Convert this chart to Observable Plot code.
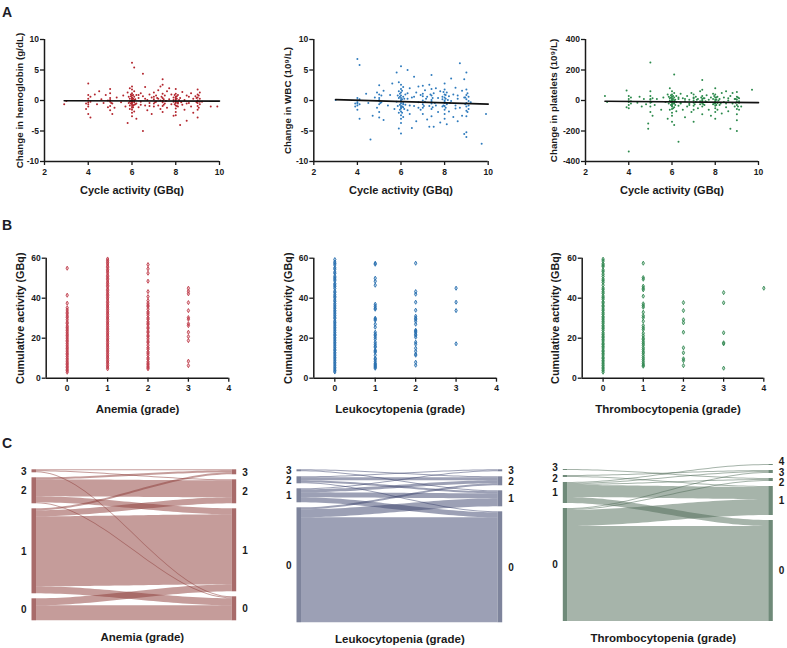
<!DOCTYPE html>
<html><head><meta charset="utf-8">
<script src="https://cdn.jsdelivr.net/npm/d3@7"></script>
<script src="https://cdn.jsdelivr.net/npm/@observablehq/plot@0.6"></script>
<style>
body{margin:0;background:#fff;font-family:"Liberation Sans",Arial,Helvetica,sans-serif}
#root{position:relative;width:787px;height:648px;overflow:hidden;background:#fff}
.letter{position:absolute;font-weight:bold;font-size:14px;line-height:14px;color:#1c1c28}
</style></head>
<body><div id="root">
<div class="letter" style="left:2px;top:5px">A</div>
<div class="letter" style="left:2px;top:218px">B</div>
<div class="letter" style="left:2px;top:436px">C</div>
</div>
<script>
// ---------- Panel A data: [cycle activity GBq, change] ----------
const hbPts = [[2.9,-0.6],[3.0,-0.1],[3.9,-0.5],[4.0,2.8],[4.0,0.3],[4.0,-0.3],[4.0,-1.0],[4.0,-2.2],[4.1,-2.8],[4.0,0.9],[4.1,-0.2],[3.9,-1.4],[4.1,0.6],[4.3,1.0],[4.4,-0.6],[4.5,1.5],[4.6,0.2],[4.7,-0.4],[4.8,0.9],[4.9,-1.1],[5.0,1.9],[5.0,0.4],[5.0,-0.2],[5.0,-0.9],[5.0,-1.6],[5.1,-2.2],[4.9,0.0],[5.0,1.2],[5.1,-0.5],[5.2,-1.2],[5.3,0.5],[5.5,-0.3],[5.6,0.8],[5.7,-1.0],[5.8,-3.7],[5.8,1.3],[5.9,0.3],[5.9,-0.8],[5.9,2.0],[6.0,6.2],[6.1,5.4],[6.0,1.8],[6.0,1.2],[6.0,0.8],[6.0,0.5],[6.0,0.2],[6.0,0.0],[6.0,-0.2],[6.0,-0.4],[6.0,-0.6],[6.0,-0.9],[6.0,-1.2],[6.0,-1.5],[6.0,-2.0],[6.0,-2.6],[6.1,1.5],[6.1,0.6],[6.1,0.1],[6.1,-0.3],[6.1,-0.7],[6.1,-1.8],[6.2,-3.0],[5.9,-1.4],[6.0,2.3],[6.2,0.9],[6.2,-0.5],[6.3,0.4],[6.3,-1.1],[6.4,1.2],[6.4,-0.2],[6.5,4.4],[6.5,-5.0],[6.5,0.7],[6.6,-0.8],[6.6,2.2],[6.7,0.1],[6.7,-1.6],[6.8,1.0],[6.8,-0.4],[6.9,0.5],[6.9,-2.2],[7.0,1.3],[7.0,0.2],[7.0,-0.5],[7.0,-1.0],[7.1,0.8],[7.1,-0.2],[7.2,1.7],[7.2,-0.8],[7.2,0.3],[7.3,2.3],[7.3,-1.4],[7.3,0.0],[7.4,3.5],[7.4,2.6],[7.4,1.1],[7.4,0.4],[7.4,-0.3],[7.4,-0.9],[7.4,-1.9],[7.5,0.8],[7.5,-0.5],[7.6,1.5],[7.6,-1.2],[7.7,0.2],[7.7,2.0],[7.8,-0.6],[7.8,1.0],[7.9,-2.5],[7.9,0.5],[8.0,1.9],[8.0,1.1],[8.0,0.6],[8.0,0.2],[8.0,-0.1],[8.0,-0.4],[8.0,-0.8],[8.0,-1.3],[8.0,-1.9],[8.0,-2.4],[8.1,0.9],[8.1,-0.3],[8.1,-1.0],[8.0,0.4],[7.9,-0.2],[8.2,-4.0],[8.2,0.4],[8.3,-0.7],[8.3,1.4],[8.4,-1.5],[8.4,0.1],[8.5,-3.3],[8.5,0.8],[8.6,-0.4],[8.7,1.2],[8.7,-1.0],[8.8,0.3],[8.8,-2.0],[8.9,0.7],[9.0,1.8],[9.0,1.0],[9.0,0.5],[9.0,0.0],[9.0,-0.4],[9.0,-0.9],[9.0,-1.5],[9.0,-2.8],[9.1,0.3],[9.1,-0.6],[9.1,1.3],[9.2,-0.2],[9.6,-1.0],[9.9,-1.0]];
const hbPtsDense = [[5.95,0.7],[5.95,-0.1],[5.95,-0.5],[5.95,1.0],[6.05,0.3],[6.05,-0.8],[6.05,-1.1],[6.05,0.9],[6.0,-0.3],[6.0,0.4],[5.9,-0.2],[6.1,-0.1],[6.15,0.2],[6.15,-0.6],[5.85,0.6],[5.85,-0.4],[6.3,0.9],[6.4,-0.7],[6.6,0.3],[6.8,-0.9],[7.0,0.6],[7.05,-0.3],[7.15,0.4],[7.35,0.6],[7.4,-0.1],[7.45,0.2],[7.45,-0.7],[7.55,-0.1],[7.9,0.1],[7.95,-0.6],[7.95,0.9],[8.0,-0.3],[8.05,0.3],[8.05,-0.9],[8.05,0.7],[8.1,-0.5],[8.15,0.1],[8.25,-0.3],[8.5,-0.5],[8.6,0.6],[8.95,-0.3],[8.95,0.4],[9.05,-1.2],[9.05,0.8],[9.1,-0.2],[4.0,-0.6],[5.0,0.1],[5.05,-0.4]];
const hbFit = [[2.9,-0.05],[10,-0.1]];

const wbcPts = [[3.0,0.1],[3.9,-0.5],[3.9,-1.0],[4.0,6.8],[4.1,5.8],[4.0,0.4],[4.0,0.0],[4.0,-0.3],[4.0,-0.8],[4.0,-1.5],[4.1,-3.0],[4.1,0.2],[4.1,-0.6],[4.4,1.1],[4.5,-0.4],[4.6,-6.4],[4.7,-2.5],[4.8,0.5],[4.9,1.3],[4.9,-1.2],[5.0,2.5],[5.0,1.0],[5.0,0.4],[5.0,-0.1],[5.0,-0.6],[5.0,-1.9],[5.0,-2.8],[5.1,0.8],[5.1,-0.3],[5.2,1.6],[5.2,-3.2],[5.4,-0.8],[5.5,0.9],[5.6,2.8],[5.7,-1.4],[5.8,4.6],[5.8,-0.2],[5.9,3.0],[5.9,-4.6],[5.9,1.5],[5.9,-2.0],[6.0,5.6],[6.0,2.6],[6.0,1.9],[6.0,1.3],[6.0,0.8],[6.0,0.4],[6.0,0.1],[6.0,-0.2],[6.0,-0.5],[6.0,-0.9],[6.0,-1.3],[6.0,-1.8],[6.0,-2.4],[6.0,-3.0],[6.0,-5.4],[6.0,-3.7],[6.1,2.2],[6.1,0.6],[6.1,-0.4],[6.1,-1.1],[6.1,-2.7],[6.2,1.0],[6.2,-0.7],[6.3,5.0],[6.3,-1.6],[6.3,0.3],[6.4,2.0],[6.4,-2.2],[6.5,-4.5],[6.5,0.5],[6.6,-0.9],[6.6,3.9],[6.7,1.3],[6.7,-3.4],[6.8,-0.3],[6.8,2.3],[6.9,-1.5],[6.9,0.9],[7.0,2.4],[7.0,1.1],[7.0,0.0],[7.0,-0.6],[7.0,-1.2],[7.0,-2.2],[7.1,1.7],[7.1,-0.2],[7.2,-3.1],[7.2,0.6],[7.3,-4.3],[7.3,2.6],[7.3,-0.9],[7.4,4.2],[7.4,1.9],[7.4,0.8],[7.4,0.1],[7.4,-0.5],[7.4,-1.4],[7.4,-2.6],[7.5,1.2],[7.5,-4.3],[7.6,-0.8],[7.6,2.0],[7.7,0.4],[7.7,-1.9],[7.8,1.5],[7.8,-3.6],[7.9,0.2],[7.9,-1.0],[8.0,2.8],[8.0,1.8],[8.0,1.0],[8.0,0.5],[8.0,0.0],[8.0,-0.4],[8.0,-0.9],[8.0,-1.5],[8.0,-2.2],[8.0,-3.0],[8.1,1.3],[8.1,-0.6],[8.1,-3.9],[8.2,0.7],[8.2,-1.8],[8.3,3.6],[8.3,-0.1],[8.4,-2.7],[8.4,1.0],[8.5,-0.8],[8.5,2.1],[8.6,0.3],[8.6,-3.4],[8.7,6.1],[8.7,-1.2],[8.8,1.6],[8.8,-2.5],[8.9,-5.5],[8.9,0.5],[8.9,3.5],[9.0,4.6],[9.0,1.8],[9.0,0.9],[9.0,0.2],[9.0,-0.4],[9.0,-1.0],[9.0,-1.7],[9.0,-2.6],[9.0,-5.2],[9.0,-6.0],[9.1,0.6],[9.1,-0.8],[9.1,-1.4],[9.2,-0.3],[9.7,-7.1],[9.9,-2.2]];
const wbcPtsDense = [[5.95,0.6],[5.95,-0.7],[5.95,-1.5],[5.95,1.1],[6.05,0.2],[6.05,-1.0],[6.05,-2.0],[6.05,1.6],[6.0,-0.1],[6.0,-1.1],[5.9,0.4],[6.1,-0.6],[6.15,0.3],[6.15,-1.4],[5.85,0.8],[5.85,-0.9],[6.3,1.2],[6.4,-0.8],[6.6,0.6],[6.8,-1.2],[7.0,0.7],[7.05,-0.9],[7.15,0.3],[7.35,1.0],[7.4,-0.2],[7.45,0.4],[7.45,-1.1],[7.55,-0.4],[7.9,0.6],[7.95,-0.8],[7.95,1.4],[8.0,-0.2],[8.05,0.3],[8.05,-1.2],[8.05,0.9],[8.1,-0.5],[8.15,0.1],[8.25,-0.4],[8.5,-1.3],[8.6,0.8],[8.95,-0.6],[8.95,0.5],[9.05,-1.9],[9.05,1.2],[9.1,-0.1],[4.0,-0.5],[5.0,0.1],[5.05,-0.4]];
const wbcFit = [[3.0,0.15],[10,-0.6]];

const pltPts = [[2.9,30],[3.0,-10],[3.9,65],[4.0,-335],[4.0,30],[4.0,10],[4.0,-10],[4.0,-30],[4.0,-50],[4.1,20],[4.1,-20],[3.9,-45],[4.1,-5],[4.4,-15],[4.5,25],[4.6,-40],[4.7,10],[4.8,-25],[4.9,-185],[4.9,-150],[5.0,250],[5.0,60],[5.0,30],[5.0,5],[5.0,-15],[5.0,-40],[5.0,-75],[5.1,-100],[5.1,15],[5.2,-30],[5.3,10],[5.5,-60],[5.6,20],[5.7,-10],[5.8,40],[5.8,-120],[5.9,80],[5.9,0],[5.9,-60],[6.0,60],[6.0,40],[6.0,25],[6.0,15],[6.0,5],[6.0,-5],[6.0,-15],[6.0,-25],[6.0,-40],[6.0,-55],[6.0,-80],[6.0,-100],[6.0,-140],[6.1,170],[6.1,50],[6.1,20],[6.1,0],[6.1,-20],[6.1,-45],[6.1,-160],[6.2,30],[6.2,-10],[6.2,-70],[6.3,-270],[6.3,10],[6.3,-35],[6.4,45],[6.4,-20],[6.5,-60],[6.5,15],[6.6,-5],[6.6,-110],[6.7,30],[6.7,-40],[6.8,5],[6.8,-20],[6.9,50],[6.9,-75],[7.0,40],[7.0,20],[7.0,0],[7.0,-15],[7.0,-35],[7.0,-60],[7.0,-140],[7.1,25],[7.1,-10],[7.2,-50],[7.2,10],[7.3,60],[7.3,-25],[7.3,-5],[7.4,135],[7.4,70],[7.4,30],[7.4,10],[7.4,-5],[7.4,-20],[7.4,-40],[7.4,-90],[7.5,15],[7.5,-30],[7.6,-10],[7.6,35],[7.7,-60],[7.7,5],[7.8,20],[7.8,-100],[7.9,-25],[7.9,45],[8.0,80],[8.0,40],[8.0,20],[8.0,5],[8.0,-5],[8.0,-20],[8.0,-35],[8.0,-50],[8.0,-75],[8.0,-120],[8.1,25],[8.1,-15],[8.1,-60],[8.2,10],[8.2,-30],[8.3,50],[8.3,-85],[8.4,-10],[8.4,20],[8.5,-45],[8.5,60],[8.6,0],[8.6,-70],[8.7,-185],[8.7,30],[8.8,-20],[8.8,50],[8.9,-40],[8.9,10],[9.0,55],[9.0,25],[9.0,5],[9.0,-10],[9.0,-30],[9.0,-55],[9.0,-90],[9.0,-130],[9.0,-200],[9.1,-15],[9.1,15],[9.1,-60],[9.2,-40],[9.7,70]];
const pltPtsDense = [[5.95,20],[5.95,-10],[5.95,-30],[5.95,35],[6.05,10],[6.05,-20],[6.05,-50],[6.05,30],[6.0,0],[6.0,-35],[5.9,15],[6.1,-10],[6.15,5],[6.15,-30],[5.85,25],[5.85,-20],[6.3,20],[6.4,-15],[6.6,10],[6.8,-30],[7.0,15],[7.05,-25],[7.15,5],[7.35,20],[7.4,0],[7.45,15],[7.45,-25],[7.55,-5],[7.9,10],[7.95,-20],[7.95,30],[8.0,-10],[8.05,5],[8.05,-30],[8.05,20],[8.1,-15],[8.15,0],[8.25,-20],[8.5,-20],[8.6,15],[8.95,-15],[8.95,10],[9.05,-40],[9.05,20],[9.1,-5],[4.0,-5],[5.0,10],[5.05,-10]];
const pltFit = [[2.9,-5],[10,-14]];

const cycleTicks = [2,4,6,8,10];
const hbTicks = [-10,-5,0,5,10];
const wbcTicks = [-10,-5,0,5,10];
const pltTicks = [-400,-200,0,200,400];

// ---------- Panel B data: cumulative activity (GBq) by grade ----------
const anemia0 = [55.0,41.5,37.5,35.2,34.1,33.0,32.2,31.1,30.3,29.2,28.0,27.3,26.1,25.4,24.6,23.8,23.0,22.1,21.4,20.6,19.7,18.9,18.2,17.3,16.5,15.6,14.9,14.1,13.2,12.4,11.7,10.8,9.9,9.1,8.2,7.5,6.8,6.0,5.3,4.5,3.8,3.0];
const anemia1 = [59.6,58.7,57.9,57.1,56.0,55.4,54.3,53.6,52.7,51.5,50.8,49.9,49.2,48.1,47.3,46.4,45.7,44.5,43.8,42.9,42.0,41.3,40.4,39.6,38.5,37.8,36.9,36.1,35.2,34.4,33.5,32.6,31.8,30.9,30.1,29.3,28.4,27.6,26.7,25.9,25.0,24.2,23.3,22.5,21.6,20.8,19.9,19.1,18.3,17.4,16.6,15.7,14.9,14.0,13.2,12.3,11.5,10.6,9.8,8.9,8.1,7.3,6.4,5.6,4.7];
const anemia2 = [56.8,54.7,52.5,48.5,43.3,40.8,38.8,37.5,36.5,35.8,34.5,33.2,32.5,31.5,30.2,29.5,28.3,27.5,26.8,25.5,24.8,23.5,22.8,21.5,20.8,19.7,18.5,17.8,16.5,15.3,14.5,13.2,12.5,11.5,10.2,9.5,8.3,7.5,6.8,6.0,5.3,4.7];
const anemia3 = [45.0,43.5,42.2,37.8,33.8,30.3,29.5,27.2,26.3,23.0,20.8,18.8,8.5,6.3];

const leuko0 = [59.3,58.1,57.4,56.6,55.2,54.5,53.1,52.4,51.0,50.2,49.5,48.7,47.3,46.6,45.8,44.9,43.5,42.8,41.7,40.9,40.2,39.1,38.4,37.3,36.5,35.6,34.8,33.9,33.1,32.2,31.4,30.5,29.8,28.6,27.9,27.1,26.2,25.4,24.6,23.7,22.9,22.0,21.3,20.4,19.6,18.7,17.9,17.1,16.2,15.4,14.5,13.8,12.9,12.1,11.2,10.4,9.6,8.7,7.9,7.1,6.2,5.4,4.6,3.8,3.1];
const leuko1 = [57.5,57.0,50.0,48.5,46.5,37.0,36.0,35.0,34.5,30.0,29.5,29.0,27.0,25.5,23.0,22.0,21.5,20.5,19.5,18.0,17.0,16.0,15.5,14.0,13.5,13.0,11.5,10.0,9.5,8.5,7.5,7.0,6.5,6.0,5.5,5.0];
const leuko2 = [57.5,43.3,42.0,38.0,34.0,31.0,30.0,29.5,28.5,27.0,24.0,23.5,23.0,22.0,21.5,20.5,18.0,17.0,15.0,13.5,12.0,11.5,8.0,6.5];
const leuko3 = [45.0,38.0,33.8,17.2];

const thrombo0 = [59.5,58.6,57.2,56.5,55.8,54.1,53.3,52.0,50.9,49.6,48.8,47.9,46.5,45.1,44.3,43.2,42.4,41.1,40.3,39.5,38.2,37.6,36.4,35.7,34.6,33.8,32.7,31.9,30.8,30.1,29.2,28.3,27.5,26.4,25.6,24.8,23.9,22.7,21.9,21.0,20.3,19.4,18.6,17.5,16.8,15.9,15.1,14.0,13.3,12.4,11.6,10.5,9.8,8.9,8.1,7.2,6.4,5.5,4.7,3.9,3.0];
const thrombo1 = [57.5,50.3,49.5,46.0,45.0,44.2,41.0,37.2,36.3,35.5,33.0,31.2,30.3,28.5,26.3,25.2,24.3,22.5,21.2,20.0,19.3,18.2,17.3,16.5,15.2,14.3,13.2,12.5,11.3,10.2,9.3,8.2,7.2,6.5,6.0];
const thrombo2 = [37.8,33.8,29.2,27.7,23.0,15.2,12.7,9.7,8.8,6.3];
const thrombo3 = [42.8,37.7,22.7,17.7,17.2,5.0];
const thrombo4 = [45.0];

const gradeTicks = [0,1,2,3,4];
const cumTicks = [0,20,40,60];

// ---------- Panel C data: [grade left, grade right, patients] ----------
const anemiaFlows = [[3,3,1],[3,2,1],[3,0,1],[2,3,2],[2,2,17],[2,1,6],[2,0,1],[1,3,2],[1,2,6],[1,1,70],[1,0,7],[0,1,7],[0,0,15]];
const leukoFlows = [[3,2,1],[3,1,1],[2,3,1],[2,2,3],[2,1,2],[2,0,1],[1,3,1],[1,2,3],[1,1,5],[1,0,5],[0,2,2],[0,1,8],[0,0,105]];
const thromboFlows = [[3,2,1],[2,3,1],[2,1,1],[1,4,1],[1,3,1],[1,2,1],[1,1,12],[1,0,6],[0,3,1],[0,2,1],[0,1,16],[0,0,95]];

// ---------- drawing ----------
const FONT = "'Liberation Sans', Arial, Helvetica, sans-serif";
const INK = "#1a1a1a";
const root = document.getElementById("root");
const baseStyle = {fontFamily: FONT, fontSize: "8.5px", fontWeight: "bold", color: INK, background: "transparent", overflow: "visible"};
const fmt = d => String(d);
function place(svg, left, top) {
  svg.style.position = "absolute"; svg.style.left = left + "px"; svg.style.top = top + "px";
  root.appendChild(svg);
}

function scatterPanel({pts, fit, color, yDomain, yTicks, yLabel, left, width, ml, mr, yDx}) {
  const svg = Plot.plot({
    width, height: 205, marginLeft: ml, marginRight: mr, marginTop: 39, marginBottom: 44,
    style: baseStyle,
    x: {domain: [2, 10]}, y: {domain: yDomain},
    marks: [
      Plot.dot(pts, {x: d => d[0], y: d => d[1], r: 1.0, fill: color, stroke: "none"}),
      Plot.line(fit, {x: d => d[0], y: d => d[1], stroke: "#111", strokeWidth: 1.6}),
      Plot.ruleX([2], {stroke: INK, strokeWidth: 1.5}),
      Plot.ruleY([yDomain[0]], {stroke: INK, strokeWidth: 1.5}),
      Plot.axisX({ticks: cycleTicks, tickFormat: fmt, tickSize: 4, tickPadding: 3, label: null, strokeWidth: 1.3}),
      Plot.axisY({ticks: yTicks, tickFormat: fmt, tickSize: 4, tickPadding: 1.5, label: null, strokeWidth: 1.3}),
      Plot.text(["Cycle activity (GBq)"], {text: d => d, frameAnchor: "bottom", dy: 32, fontSize: 11, fontWeight: "bold"}),
      Plot.text([yLabel], {text: d => d, frameAnchor: "left", textAnchor: "middle", dx: yDx, rotate: -90, fontSize: 9.8, fontWeight: "bold"})
    ]
  });
  place(svg, left, 0);
}

scatterPanel({pts: hbPts.concat(hbPtsDense), fit: hbFit, color: "#b3262e", yDomain: [-10, 10], yTicks: hbTicks,
  yLabel: "Change in hemoglobin (g/dL)", left: 0, width: 260, ml: 44, mr: 41, yDx: -25});
scatterPanel({pts: wbcPts.concat(wbcPtsDense), fit: wbcFit, color: "#2f7bbd", yDomain: [-10, 10], yTicks: wbcTicks,
  yLabel: "Change in WBC (10\u2079/L)", left: 262, width: 260, ml: 51.3, mr: 34.3, yDx: -26});
scatterPanel({pts: pltPts.concat(pltPtsDense), fit: pltFit, color: "#2c8a4c", yDomain: [-400, 400], yTicks: pltTicks,
  yLabel: "Change in platelets (10\u2079/L)", left: 522, width: 265, ml: 63, mr: 29, yDx: -32});

function gradePanel({groups, color, title, left, width, ml, mr, yDx, tDx}) {
  const pts = groups.flatMap((vals, g) => vals.map(v => ({g, v})));
  const svg = Plot.plot({
    width, height: 205, marginLeft: ml, marginRight: mr, marginTop: 42.7, marginBottom: 42.3,
    style: baseStyle,
    x: {domain: [-0.52, 4]}, y: {domain: [0, 60]},
    marks: [
      Plot.dot(pts, {x: "g", y: "v", symbol: "diamond", r: 1.25, stroke: color, strokeWidth: 0.9, fill: color, fillOpacity: 0.3}),
      Plot.ruleX([-0.52], {stroke: INK, strokeWidth: 1.5}),
      Plot.ruleY([0], {stroke: INK, strokeWidth: 1.5}),
      Plot.axisX({ticks: gradeTicks, tickFormat: fmt, tickSize: 4, tickPadding: 3, label: null, strokeWidth: 1.3}),
      Plot.axisY({ticks: cumTicks, tickFormat: fmt, tickSize: 4, tickPadding: 1.5, label: null, strokeWidth: 1.3}),
      Plot.text([title], {text: d => d, frameAnchor: "bottom", dy: 35, dx: tDx, fontSize: 11.5, fontWeight: "bold"}),
      Plot.text(["Cumulative activity (GBq)"], {text: d => d, frameAnchor: "left", textAnchor: "middle", dx: yDx, rotate: -90, fontSize: 10.8, fontWeight: "bold"})
    ]
  });
  place(svg, left, 215);
}

gradePanel({groups: [anemia0, anemia1, anemia2, anemia3], color: "#c0404e", title: "Anemia (grade)",
  left: 0, width: 260, ml: 45.7, mr: 31.7, yDx: -26, tDx: 0});
gradePanel({groups: [leuko0, leuko1, leuko2, leuko3], color: "#2a70b0", title: "Leukocytopenia (grade)",
  left: 262, width: 260, ml: 51.3, mr: 26, yDx: -25, tDx: -5});
gradePanel({groups: [thrombo0, thrombo1, thrombo2, thrombo3, thrombo4], color: "#358a55", title: "Thrombocytopenia (grade)",
  left: 522, width: 265, ml: 59.7, mr: 23.7, yDx: -27, tDx: -5});

function alluvialPanel({flows, flowColor, barColor, title, left, width, ml, mr, bottom, tDx}) {
  const top = 440, H = 210, gap = 5, sep = 10.5;
  const relBottom = bottom - top;
  const fl = flows.map(([a, b, n], i) => ({a, b, n, i}));
  const nodes = [];
  function stack(key, other, side) {
    let y = 0;
    for (const g of d3.sort(new Set(fl.map(f => f[key])))) {
      const y0 = y;
      for (const f of d3.sort(fl.filter(f => f[key] === g), f => f[other])) {
        f[side] = [y, y + f.n]; y += f.n;
      }
      nodes.push({side, g, y0, y1: y, ly: (y0 + y) / 2});
      y += gap;
    }
  }
  stack("a", "b", "L"); stack("b", "a", "R");
  // keep node labels apart
  for (const side of ["L", "R"]) {
    const ns = d3.sort(nodes.filter(n => n.side === side), n => n.ly);
    for (let k = 0; k < 80; k++) for (let j = 1; j < ns.length; j++) {
      const d = ns[j].ly - ns[j - 1].ly;
      if (d < sep) { const s = (sep - d) / 2; ns[j].ly += s; ns[j - 1].ly -= s; }
    }
  }
  const rows = [];
  const steps = d3.range(41).map(k => k / 40);
  for (const f of fl) for (const t of steps) {
    const s = t * t * (3 - 2 * t);
    rows.push({i: f.i, t, lo: f.L[0] + (f.R[0] - f.L[0]) * s, hi: f.L[1] + (f.R[1] - f.L[1]) * s});
  }
  const bw = 4.5 / (width - ml - mr);
  const L = nodes.filter(n => n.side === "L"), R = nodes.filter(n => n.side === "R");
  const svg = Plot.plot({
    width, height: H, marginLeft: ml, marginRight: mr, marginTop: relBottom - 160, marginBottom: H - relBottom,
    style: {...baseStyle, fontSize: "10px"},
    x: {domain: [0, 1], axis: null}, y: {domain: [0, 160], axis: null},
    marks: [
      Plot.area(rows, {x1: "t", y1: "lo", y2: "hi", z: "i", fill: flowColor, fillOpacity: 0.5, curve: "linear"}),
      Plot.rect(L, {x1: () => -bw, x2: () => 0, y1: "y0", y2: "y1", fill: barColor}),
      Plot.rect(R, {x1: () => 1, x2: () => 1 + bw, y1: "y0", y2: "y1", fill: barColor}),
      Plot.text(L, {x: () => 0, y: "ly", text: d => String(d.g), dx: -10, textAnchor: "end", fontWeight: "bold"}),
      Plot.text(R, {x: () => 1, y: "ly", text: d => String(d.g), dx: 10, textAnchor: "start", fontWeight: "bold"}),
      Plot.text([title], {text: d => d, frameAnchor: "bottom", dy: 20, dx: tDx, fontSize: 11.5, fontWeight: "bold"})
    ]
  });
  place(svg, left, top);
}

alluvialPanel({flows: anemiaFlows, flowColor: "#8c3a36", barColor: "#a86b6a", title: "Anemia (grade)",
  left: 0, width: 262, ml: 36, mr: 30.3, bottom: 620.3, tDx: 8});
alluvialPanel({flows: leukoFlows, flowColor: "#39426b", barColor: "#7e849c", title: "Leukocytopenia (grade)",
  left: 262, width: 262, ml: 39, mr: 26.3, bottom: 622.3, tDx: 0});
alluvialPanel({flows: thromboFlows, flowColor: "#4e6a56", barColor: "#6f8a79", title: "Thrombocytopenia (grade)",
  left: 524, width: 263, ml: 43.3, mr: 18.7, bottom: 621, tDx: -5});
</script>
</body></html>
